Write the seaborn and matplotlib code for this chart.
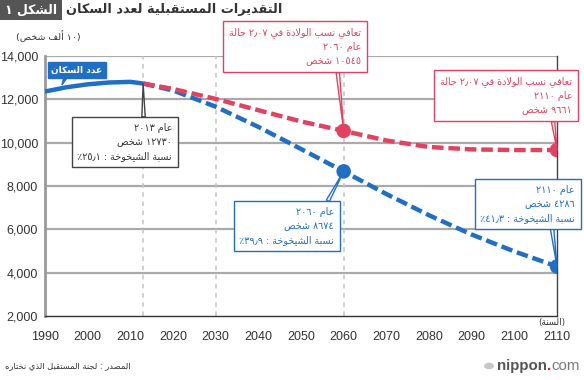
import matplotlib
matplotlib.use("Agg")
import matplotlib.pyplot as plt
import seaborn as sns
import pandas as pd
from matplotlib.patches import Rectangle, Circle

# ---------------- data ----------------
years_actual = [1990, 1995, 2000, 2005, 2010, 2013]
pop_actual = [12361, 12557, 12693, 12777, 12806, 12730]

years_proj = [2013, 2020, 2030, 2040, 2050, 2060, 2070, 2080, 2090, 2100, 2110]
pop_medium = [12730, 12410, 11662, 10728, 9708, 8674, 7630, 6650, 5760, 4980, 4286]
pop_recovery = [12730, 12480, 12020, 11500, 10980, 10545, 10100, 9800, 9690, 9660, 9661]

marker_years = [2060, 2110]
x_ticks = list(range(1990, 2111, 10))
y_ticks = [2000, 4000, 6000, 8000, 10000, 12000, 14000]
ref_years = [2013, 2030, 2060]

title = "التقديرات المستقبلية لعدد السكان"
fig_label = "الشكل ١"
unit_label = "(١٠ ألف شخص)"
year_label = "(السنة)"
series_label = "عدد السكان"
source = "المصدر : لجنة المستقبل الذي نختاره"
note_2013 = ["عام ٢٠١٣", "١٢٧٣٠ شخص", "نسبة الشيخوخة : ٢٥٫١٪"]
note_red_2060 = ["تعافي نسب الولادة في ٢٫٠٧ حالة", "عام ٢٠٦٠", "١٠٥٤٥ شخص"]
note_red_2110 = ["تعافي نسب الولادة في ٢٫٠٧ حالة", "عام ٢١١٠", "٩٦٦١ شخص"]
note_blue_2060 = ["عام ٢٠٦٠", "٨٦٧٤ شخص", "نسبة الشيخوخة : ٣٩٫٩٪"]
note_blue_2110 = ["عام ٢١١٠", "٤٢٨٦ شخص", "نسبة الشيخوخة : ٤١٫٣٪"]

# ---------------- simple Arabic shaping + RTL ordering ----------------
_DUAL = {'ئ': 0xFE89, 'ب': 0xFE8F, 'ت': 0xFE95, 'ث': 0xFE99, 'ج': 0xFE9D, 'ح': 0xFEA1,
         'خ': 0xFEA5, 'س': 0xFEB1, 'ش': 0xFEB5, 'ص': 0xFEB9, 'ض': 0xFEBD, 'ط': 0xFEC1,
         'ظ': 0xFEC5, 'ع': 0xFEC9, 'غ': 0xFECD, 'ف': 0xFED1, 'ق': 0xFED5, 'ك': 0xFED9,
         'ل': 0xFEDD, 'م': 0xFEE1, 'ن': 0xFEE5, 'ه': 0xFEE9, 'ي': 0xFEF1}
_RIGHT = {'آ': 0xFE81, 'أ': 0xFE83, 'ؤ': 0xFE85, 'إ': 0xFE87, 'ا': 0xFE8D, 'ة': 0xFE93,
          'د': 0xFEA9, 'ذ': 0xFEAB, 'ر': 0xFEAD, 'ز': 0xFEAF, 'و': 0xFEED, 'ى': 0xFEEF}
_LAMALEF = {'آ': 0xFEF5, 'أ': 0xFEF7, 'إ': 0xFEF9, 'ا': 0xFEFB}
_NUM = set("0123456789٠١٢٣٤٥٦٧٨٩٫٬")
_MIRROR = {'(': ')', ')': '('}


def ar(s):
    toks = []
    i = 0
    while i < len(s):
        c = s[i]
        if c == 'ل' and i + 1 < len(s) and s[i + 1] in _LAMALEF:
            toks.append(('LA', s[i + 1]))
            i += 2
        else:
            toks.append((c, None))
            i += 1

    def jt(t):
        c = t[0]
        if c == 'LA' or c in _RIGHT:
            return 'R'
        if c in _DUAL:
            return 'D'
        return None

    out = []
    for k, t in enumerate(toks):
        typ = jt(t)
        prev = jt(toks[k - 1]) if k > 0 else None
        nxt = jt(toks[k + 1]) if k + 1 < len(toks) else None
        jp = typ is not None and prev == 'D'
        jn = typ == 'D' and nxt is not None
        if t[0] == 'LA':
            out.append(chr(_LAMALEF[t[1]] + (1 if jp else 0)))
        elif typ == 'D':
            b = _DUAL[t[0]]
            out.append(chr(b + (3 if (jp and jn) else 1 if jp else 2 if jn else 0)))
        elif typ == 'R':
            out.append(chr(_RIGHT[t[0]] + (1 if jp else 0)))
        elif t[0] == 'ء':
            out.append(chr(0xFE80))
        else:
            out.append(t[0])
    runs = []
    for ch in out:
        isnum = ch in _NUM
        if runs and runs[-1][0] and isnum:
            runs[-1][1].append(ch)
        else:
            runs.append([isnum, [ch]])
    vis = []
    for isnum, chs in reversed(runs):
        if isnum:
            vis.extend(chs)
        else:
            vis.extend(_MIRROR.get(c, c) for c in reversed(chs))
    return "".join(vis)


def arl(lines):
    return "\n".join(ar(l) for l in lines)


# ---------------- style ----------------
sns.set_theme(style="white")
plt.rcParams['font.family'] = ['Liberation Sans', 'DejaVu Sans']
AR_FONT = ['DejaVu Sans']

BLUE = "#1f6fc6"
RED = "#e3415f"
GRID = "#aaaaaa"
TXT = "#333333"

W, H = 584, 380
fig = plt.figure(figsize=(W / 100, H / 100), dpi=100)
ax = fig.add_axes([45 / W, 1 - 316 / H, (557 - 45) / W, (316 - 56) / H])

df_act = pd.DataFrame({"year": years_actual, "pop": pop_actual})
df_med = pd.DataFrame({"year": years_proj, "pop": pop_medium})
df_rec = pd.DataFrame({"year": years_proj, "pop": pop_recovery})

for yv in y_ticks[1:]:
    ax.axhline(yv, color=GRID, lw=1.6, zorder=1)
for xv in ref_years:
    ax.axvline(xv, color="#c4c4c4", lw=1.1, ls=(0, (3, 3)), zorder=1)

sns.lineplot(data=df_act, x="year", y="pop", ax=ax, color=BLUE, lw=3.2,
             solid_capstyle="butt", zorder=4)
sns.lineplot(data=df_med, x="year", y="pop", ax=ax, color=BLUE, lw=3.2,
             linestyle=(0, (2.6, 1.1)), zorder=4)
sns.lineplot(data=df_rec, x="year", y="pop", ax=ax, color=RED, lw=3.2,
             linestyle=(0, (2.6, 1.1)), zorder=5)

mk_med = df_med[df_med["year"].isin(marker_years)]
mk_rec = df_rec[df_rec["year"].isin(marker_years)]
sns.scatterplot(data=mk_med, x="year", y="pop", ax=ax, color=BLUE, s=110,
                edgecolor="none", zorder=6)
sns.scatterplot(data=mk_rec, x="year", y="pop", ax=ax, color=RED, s=110,
                edgecolor="none", zorder=6)

ax.set_xlim(1990, 2110)
ax.set_ylim(2000, 14000)
ax.set_xticks(x_ticks)
ax.set_yticks(y_ticks)
ax.set_xticklabels([str(x) for x in x_ticks])
ax.set_yticklabels([f"{y:,}" for y in y_ticks])
ax.set_xlabel("")
ax.set_ylabel("")
ax.tick_params(axis="x", direction="in", length=5, width=1, color="#999999",
               labelsize=9, labelcolor=TXT, pad=11)
ax.tick_params(axis="y", length=0, labelsize=9, labelcolor=TXT, pad=5)
ax.spines["top"].set_visible(False)
ax.spines["left"].set_color("#9a9a9a")
ax.spines["left"].set_linewidth(2)
ax.spines["bottom"].set_color("#333333")
ax.spines["bottom"].set_linewidth(1)
ax.spines["right"].set_color("#444444")
ax.spines["right"].set_linewidth(1)
ax.set_facecolor("white")


# ---------------- annotations ----------------
def fp(x, ytop):
    return (x, H - ytop)


def note(lines, xy, text_xy, color, tcolor, relpos, tw=0.35, lw=1.0):
    ax.annotate(arl(lines), xy=xy, xycoords="data",
                xytext=fp(*text_xy), textcoords="figure pixels",
                ha="right", va="center", multialignment="right",
                fontsize=6.9, color=tcolor, linespacing=1.5, zorder=10,
                family=AR_FONT,
                bbox=dict(boxstyle="square,pad=0.6", fc="white", ec=color, lw=lw),
                arrowprops=dict(arrowstyle=f"wedge,tail_width={tw},shrink_factor=0.5",
                                fc="white", ec=color, lw=lw,
                                relpos=relpos, shrinkA=0, shrinkB=0),
                annotation_clip=False)


i13 = years_proj.index(2013)
i60 = years_proj.index(2060)
i110 = years_proj.index(2110)

note(note_2013, (2013, pop_medium[i13]), (172, 142), "#444444", TXT, (0.7, 1.0))
note(note_red_2060, (2060, pop_recovery[i60]), (361, 47), RED, RED, (0.82, 0.0))
note(note_red_2110, (2110, pop_recovery[i110]), (572, 96), RED, RED, (0.85, 0.0))
note(note_blue_2060, (2060, pop_medium[i60]), (334, 226), BLUE, BLUE, (0.9, 1.0))
note(note_blue_2110, (2110, pop_medium[i110]), (575, 204), BLUE, BLUE, (0.75, 0.0))

ax.annotate(ar(series_label), xy=(1994, pop_actual[1] + 120), xycoords="data",
            xytext=fp(77, 70), textcoords="figure pixels",
            ha="center", va="center", fontsize=6.6, color="white", fontweight="bold",
            family=AR_FONT, zorder=10,
            bbox=dict(boxstyle="square,pad=0.35", fc=BLUE, ec=BLUE, lw=1),
            arrowprops=dict(arrowstyle="wedge,tail_width=0.3,shrink_factor=0.5",
                            fc=BLUE, ec=BLUE, relpos=(0.3, 0.0), shrinkA=0, shrinkB=0),
            annotation_clip=False)

# ---------------- figure texts ----------------
fig.patches.append(Rectangle((0, 1 - 20 / H), 62 / W, 20 / H, transform=fig.transFigure,
                             fc="#555555", ec="none", zorder=0))
fig.text(31 / W, 1 - 10 / H, ar(fig_label), ha="center", va="center",
         color="white", fontsize=9, fontweight="bold", family=AR_FONT)
fig.text(66 / W, 1 - 10 / H, ar(title), ha="left", va="center",
         color="#333333", fontsize=9.3, fontweight="bold", family=AR_FONT)
fig.text(48 / W, 1 - 36 / H, ar(unit_label), ha="center", va="center",
         color=TXT, fontsize=6.8, family=AR_FONT)
fig.text(552 / W, 1 - 323 / H, ar(year_label), ha="center", va="center",
         color=TXT, fontsize=6.3, family=AR_FONT)
fig.text(5 / W, 1 - 366 / H, ar(source), ha="left", va="center",
         color=TXT, fontsize=6, family=AR_FONT)

# nippon.com logo
fig.patches.append(Circle((489 / W, 1 - 366 / H), 5 / W, transform=fig.transFigure,
                          fc="#c8c8c8", ec="none"))
t1 = fig.text(497 / W, 1 - 366 / H, "nippon", ha="left", va="center",
              color="#555555", fontsize=10.8, fontweight="bold")
fig.canvas.draw()
bb = t1.get_window_extent()
t2 = fig.text(bb.x1 / W, 1 - 366 / H, ".", ha="left", va="center",
              color="#e2231a", fontsize=10.8, fontweight="bold")
fig.canvas.draw()
bb2 = t2.get_window_extent()
fig.text(bb2.x1 / W, 1 - 366 / H, "com", ha="left", va="center",
         color="#777777", fontsize=10.8)

fig.savefig("out.png", dpi=100, facecolor="white")
